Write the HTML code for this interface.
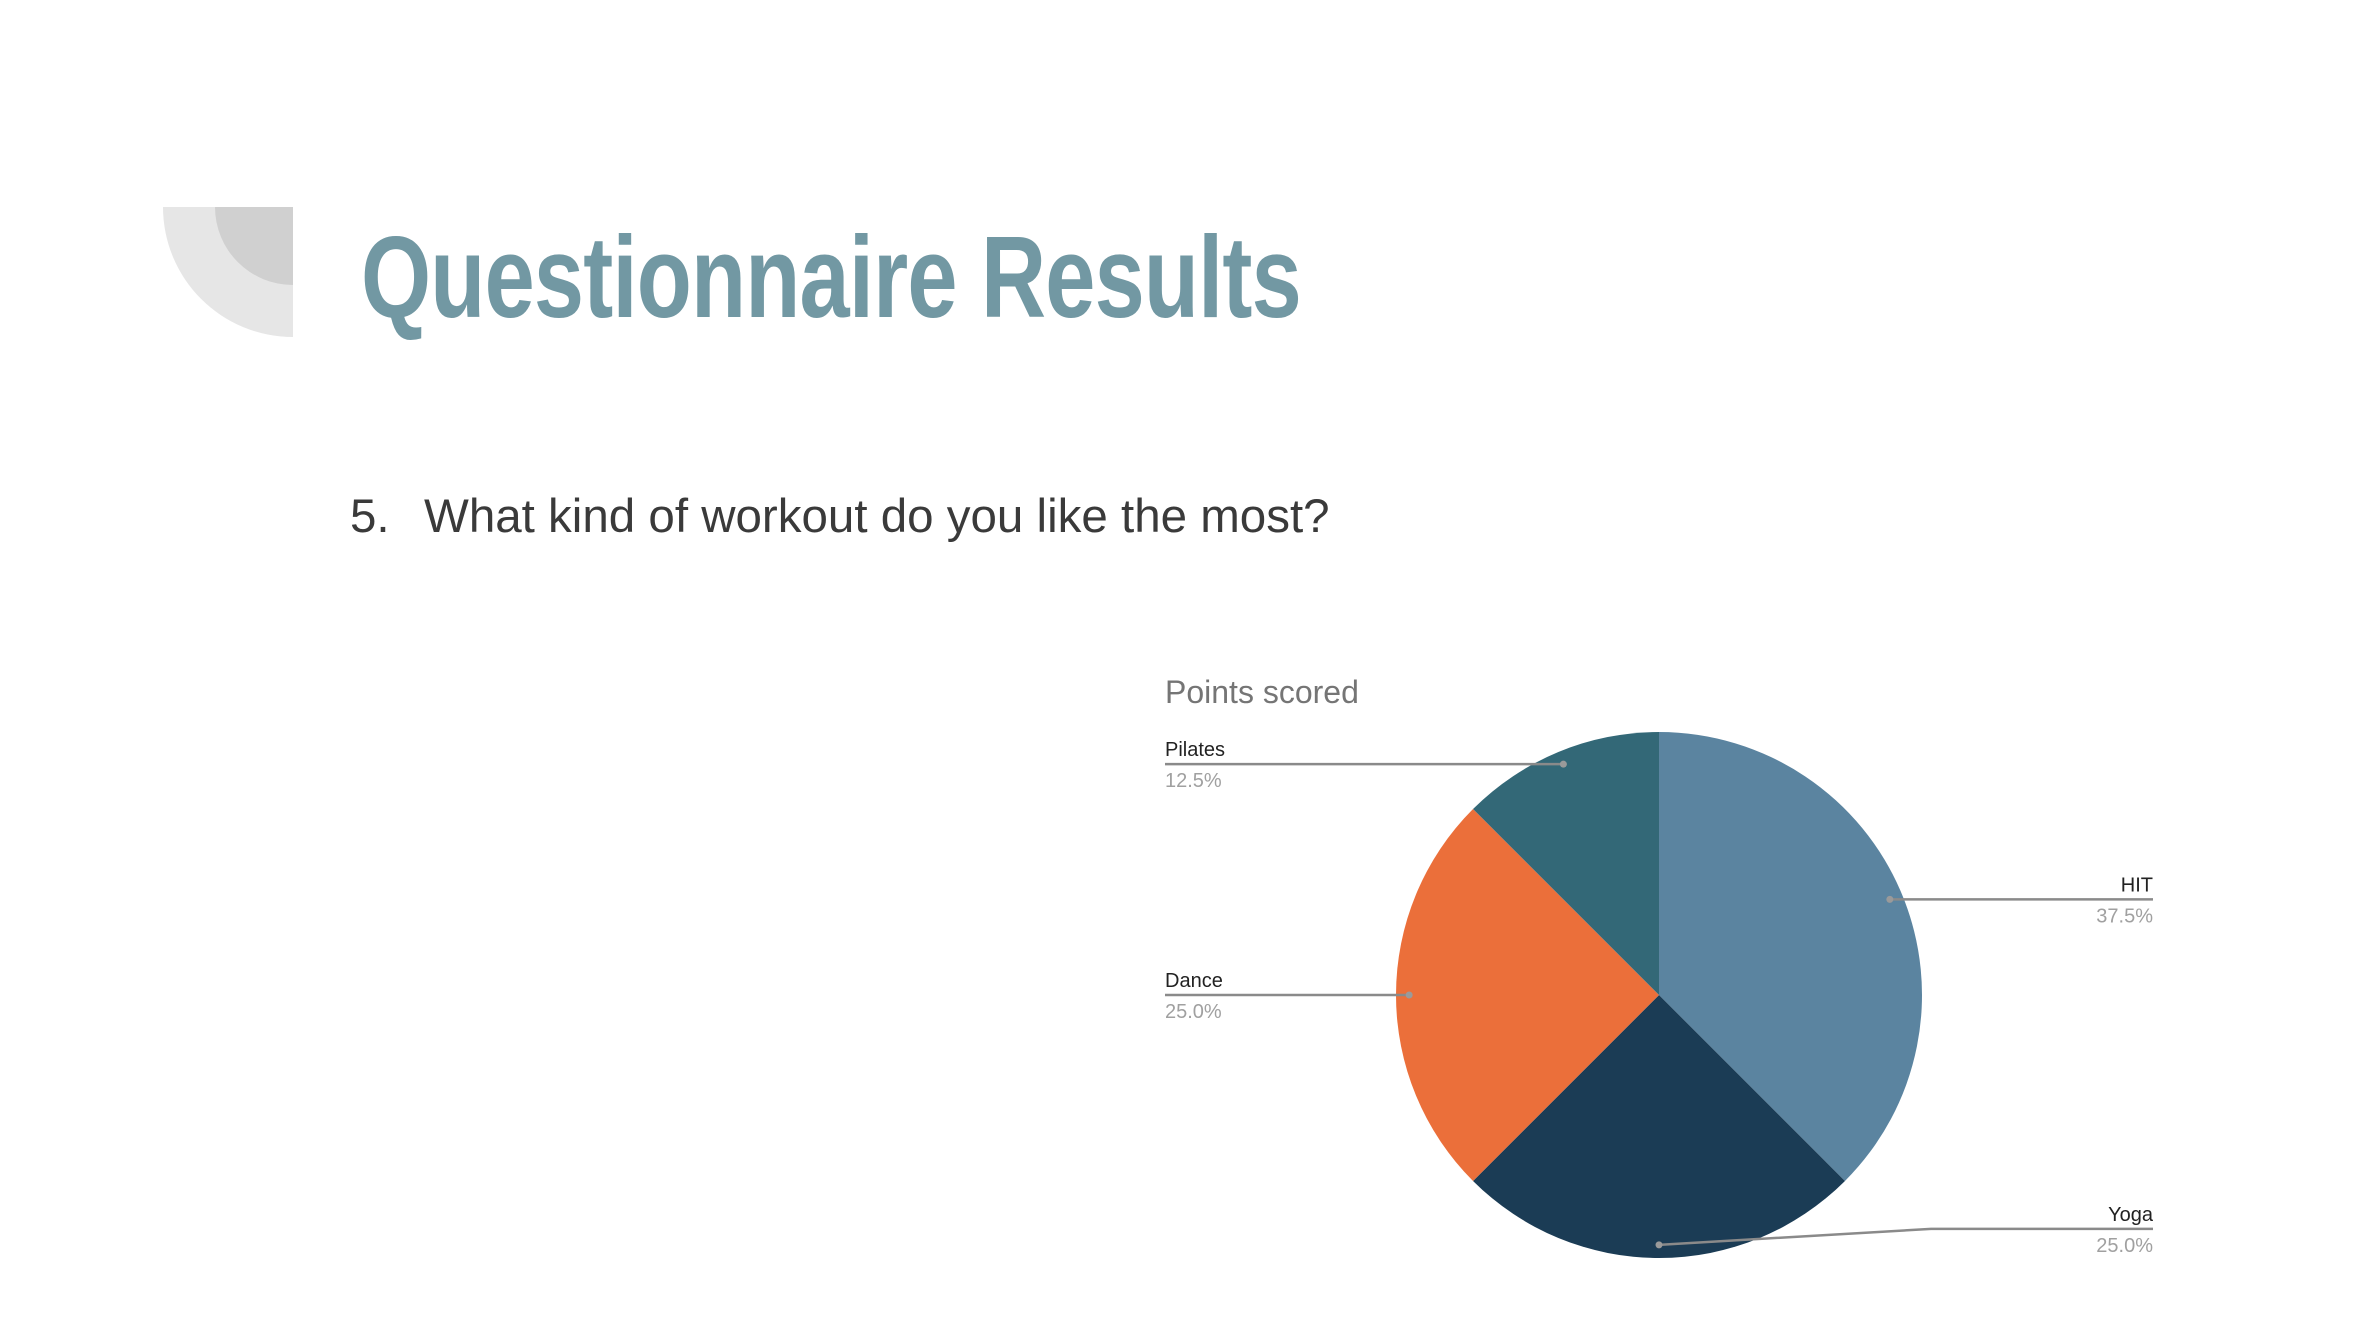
<!DOCTYPE html>
<html><head><meta charset="utf-8">
<style>
html,body{margin:0;padding:0;background:#fff;}
body{width:2378px;height:1338px;position:relative;overflow:hidden;font-family:"Liberation Sans",sans-serif;}
#title{position:absolute;left:361px;top:219px;font-family:"Liberation Sans Narrow","Liberation Sans",sans-serif;font-weight:bold;font-size:116px;color:#7298a3;line-height:1;white-space:nowrap;transform-origin:0 0;letter-spacing:-1px;}
#question{position:absolute;left:350px;top:493px;font-size:47.5px;color:#3a3a3a;white-space:nowrap;line-height:1;}
</style></head>
<body>
<svg style="position:absolute;left:0;top:0" width="400" height="400">
  <path d="M163 207 H293 V337 A130 130 0 0 1 163 207 Z" fill="#e6e6e6"/>
  <path d="M215 207 H293 V285 A78 78 0 0 1 215 207 Z" fill="#d0d0d0"/>
</svg>
<div id="title">Questionnaire Results</div>
<div id="question"><span style="display:inline-block;width:74px">5.</span>What kind of workout do you like the most?</div>
<svg id="chart" style="position:absolute;left:0;top:0" width="2378" height="1338"></svg>
<script>
const categories = ["HIT","Yoga","Dance","Pilates"];
const values = [3,2,2,1];
const pctLabels = ["37.5%","25.0%","25.0%","12.5%"];
const colors = ["#5b84a0","#1b3c55","#eb6f3a","#336877"];
const svg = document.getElementById('chart');
const NS = 'http://www.w3.org/2000/svg';
const cx = 1659, cy = 995, R = 263;
const LX = 1165, RX = 2153;
function mk(tag, attrs){const e=document.createElementNS(NS,tag);for(const k in attrs)e.setAttribute(k,attrs[k]);svg.appendChild(e);return e;}
const t = mk('text',{x:LX,y:703,'font-size':32,fill:'#757575','font-family':'Liberation Sans, sans-serif'});
t.textContent='Points scored';


const total = values.reduce((a,b)=>a+b,0);
function pt(a,r){return [cx+r*Math.sin(a), cy-r*Math.cos(a)];}
let acc = 0;
const mids = [];
values.forEach((v,i)=>{
  const a0 = acc/total*2*Math.PI; acc += v; const a1 = acc/total*2*Math.PI;
  const p0 = pt(a0,R), p1 = pt(a1,R);
  const large = (a1-a0)>Math.PI?1:0;
  const p = mk('path',{d:`M${cx} ${cy} L${p0[0]} ${p0[1]} A${R} ${R} 0 ${large} 1 ${p1[0]} ${p1[1]} Z`,fill:colors[i]});
  
  
  mids.push((a0+a1)/2);
});
values.forEach((v,i)=>{
  const m = mids[i];
  const d = pt(m, R*0.95);
  const right = Math.sin(m) > 0.0001 || (Math.abs(Math.sin(m))<0.0001 && Math.cos(m)<0);
  const lineY = Math.abs(Math.cos(m))>0.9 && Math.cos(m)<0 ? d[1]-16 : d[1];
  const stroke = {stroke:'#8a8a8a','stroke-width':2.5,fill:'none'};
  let pathD, tx, anchor;
  if(right){
    const elbow = Math.cos(m)<-0.9 ? 1931 : d[0];
    pathD = `M${d[0]} ${d[1]} L${elbow} ${lineY} L${RX} ${lineY}`; tx=RX; anchor='end';
  } else {
    pathD = `M${d[0]} ${d[1]} L${LX} ${lineY}`; tx=LX; anchor='start';
  }
  const l = mk('path',Object.assign({d:pathD},stroke));
  
  
  const dot = mk('circle',{cx:d[0],cy:d[1],r:3.5,fill:'#9a9a9a'});
  
  
  const n = mk('text',{x:tx,y:lineY-8,'font-size':20,fill:'#222','text-anchor':anchor,'font-family':'Liberation Sans, sans-serif'});
  n.textContent = categories[i];
  
  
  const pc = mk('text',{x:tx,y:lineY+23,'font-size':20,fill:'#a0a0a0','text-anchor':anchor,'font-family':'Liberation Sans, sans-serif'});
  pc.textContent = (v/total*100).toFixed(1)+'%';
  
  
});
const ti=document.getElementById('title');
const w=ti.getBoundingClientRect().width;
ti.style.transform='scaleX('+(940/w)+')';
</script>
</body></html>
